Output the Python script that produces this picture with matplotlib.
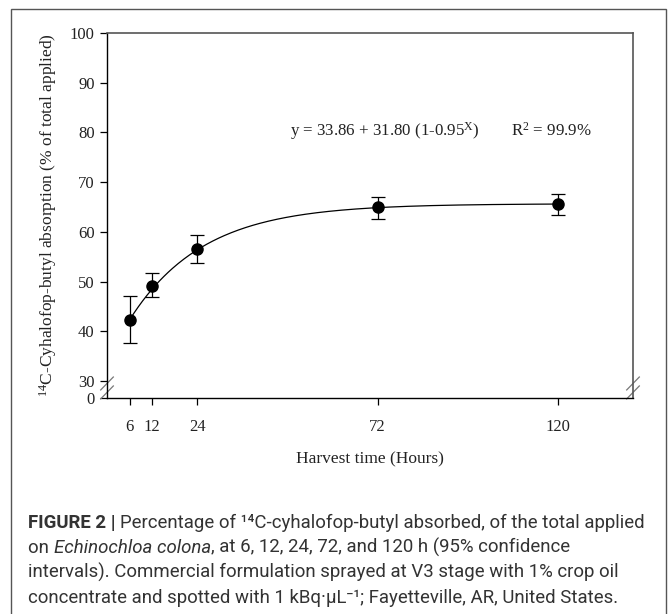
import numpy as np
import matplotlib.pyplot as plt
from matplotlib.patches import Rectangle

# Absorption data (mean and 95% confidence limits)
hours = [6, 12, 24, 72, 120]
absorption = [42.3, 49.2, 56.5, 64.9, 65.6]
ci_upper = [47.1, 51.7, 59.3, 67.0, 67.7]
ci_lower = [37.7, 46.8, 53.7, 62.5, 63.3]

# Fitted model: y = a + b (1 - c^x)
a, b, c = 33.86, 31.80, 0.95

y_ticks = [30, 40, 50, 60, 70, 80, 90, 100]
x_ticks = [6, 12, 24, 72, 120]

serif = 'Liberation Serif'
sans = ['Roboto', 'DejaVu Sans']
plt.rcParams['mathtext.fontset'] = 'custom'
plt.rcParams['mathtext.rm'] = serif
plt.rcParams['mathtext.it'] = serif + ':italic'

W, H = 670, 614
fig = plt.figure(figsize=(W / 100, H / 100), dpi=100)

# outer panel frame
fig.patches.append(Rectangle((11 / W, -0.01), 655 / W, 1.01 - 9 / H,
                             transform=fig.transFigure, fill=False,
                             edgecolor='#555555', linewidth=1.0))

ax = fig.add_axes([107 / W, 1 - 398 / H, 526 / W, 365 / H])

# the axis is broken between 0 and 30; "0" sits just below the break
y_zero = 30 - 17 / 4.97
ax.set_ylim(y_zero, 100)
ax.set_xlim(0, 140)

xs = np.linspace(6, 120, 300)
ax.plot(xs, a + b * (1 - c ** xs), color='black', linewidth=0.9)

yerr = [np.array(absorption) - np.array(ci_lower),
        np.array(ci_upper) - np.array(absorption)]
ax.errorbar(hours, absorption, yerr=yerr, fmt='o', color='black',
            markersize=8, elinewidth=0.9, capsize=5, capthick=0.9)

ax.set_yticks([y_zero] + y_ticks)
ax.set_yticklabels(['0'] + [str(v) for v in y_ticks])
ax.set_xticks(x_ticks)
ax.set_xticklabels([str(v) for v in x_ticks])
ax.tick_params(direction='out', length=5, width=0.9, labelsize=12,
               colors='black', pad=4)
ax.tick_params(axis='x', pad=10)
for lbl in ax.get_xticklabels() + ax.get_yticklabels():
    lbl.set_fontfamily(serif)
    lbl.set_color('#222222')

ax.spines['left'].set_linewidth(1.0)
ax.spines['bottom'].set_linewidth(1.0)
ax.spines['top'].set_color('#555555')
ax.spines['right'].set_color('#555555')
ax.spines['top'].set_linewidth(1.2)
ax.spines['right'].set_linewidth(1.2)

# break marks on both vertical spines
brk_y = 28.6
for xpos in (0, 1):
    for dy in (-0.9, 0.9):
        ax.plot([xpos - 0.012, xpos + 0.012], [brk_y + dy - 1.3, brk_y + dy + 1.3],
                transform=ax.get_yaxis_transform(), color='#777777',
                linewidth=0.9, clip_on=False)

ax.set_xlabel('Harvest time (Hours)', fontfamily=serif, fontsize=12.5,
              labelpad=12, color='#222222')
ax.set_ylabel(r'$^{\mathregular{14}}$C-Cyhalofop-butyl absorption (% of total applied)',
              fontfamily=serif, fontsize=12.5, labelpad=8, color='#222222')

# fitted equation and goodness of fit
fig.text(290 / W, 1 - 131 / H, r'y = 33.86 + 31.80 (1-0.95$^{\mathregular{X}}$)',
         fontfamily=serif, fontsize=12.2, va='center', ha='left',
         color='#222222')
fig.text(511 / W, 1 - 131 / H, r'R$^{\mathregular{2}}$ = 99.9%',
         fontfamily=serif, fontsize=12.2, va='center', ha='left',
         color='#222222')

# caption, built from styled pieces placed one after another
caption = [
    [('FIGURE 2 | ', 'bold', 'normal'),
     ('Percentage of ¹⁴C-cyhalofop-butyl absorbed, of the total applied', 'normal', 'normal')],
    [('on ', 'normal', 'normal'), ('Echinochloa colona', 'normal', 'italic'),
     (', at 6, 12, 24, 72, and 120 h (95% confidence', 'normal', 'normal')],
    [('intervals). Commercial formulation sprayed at V3 stage with 1% crop oil', 'normal', 'normal')],
    [('concentrate and spotted with 1 kBq·µL⁻¹; Fayetteville, AR, United States.', 'normal', 'normal')],
]
for i, pieces in enumerate(caption):
    prev = None
    for text, weight, style in pieces:
        kw = dict(family=sans, fontsize=13.4, fontweight=weight, fontstyle=style,
                  color='#333333', va='bottom', ha='left')
        if prev is None:
            prev = fig.text(28 / W, 1 - (532 + 25 * i) / H, text, **kw)
        else:
            prev = ax.annotate(text, xy=(1, 0), xycoords=prev,
                               annotation_clip=False, **kw)

fig.savefig('out.png', dpi=100)
